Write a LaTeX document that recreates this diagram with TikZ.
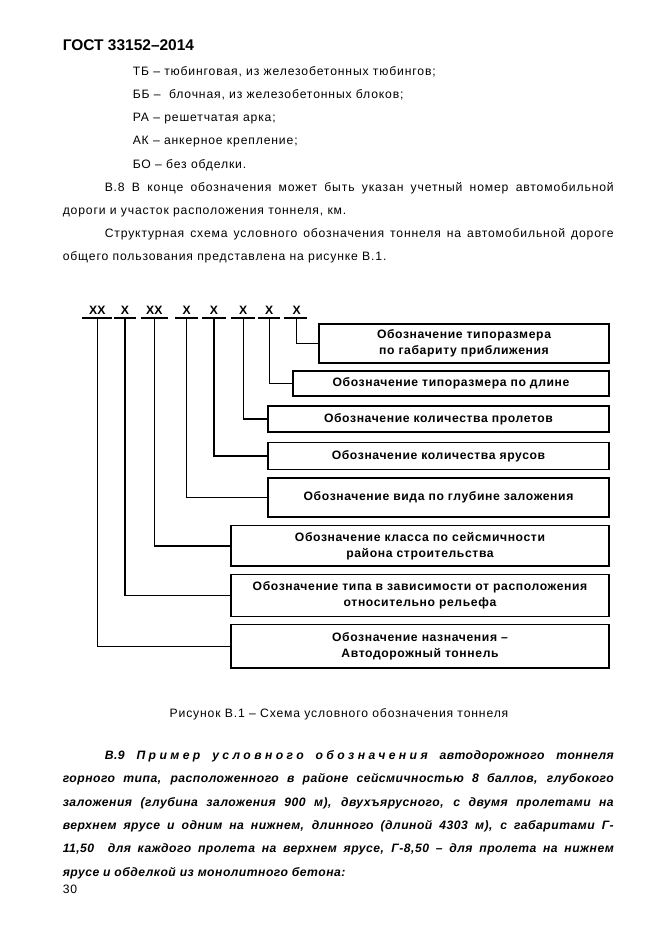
\documentclass[tikz,border=0pt]{standalone}
\usepackage{fontspec}
\setmainfont{Liberation Sans}
\newlength{\unitpx}
\setlength{\unitpx}{0.3177mm}
\begin{document}
\begin{tikzpicture}[x=\unitpx,y=-\unitpx,line width=1.4pt,
	txt/.style={anchor=base west,inner sep=0pt,font=\fontsize{11}{13}\selectfont\addfontfeature{LetterSpace=7}},
	ex/.style={anchor=base west,inner sep=0pt,font=\fontsize{11}{13}\selectfont\bfseries\itshape\addfontfeature{LetterSpace=4}},
	box/.style={draw,line width=1.4pt,inner sep=0pt,align=center,font=\fontsize{11}{14.4}\selectfont\bfseries\addfontfeature{LetterSpace=5}},
	lbl/.style={anchor=base,inner sep=0pt,font=\fontsize{11}{13}\selectfont\bfseries}]

	% page
	\useasboundingbox (0,0) rectangle (661,935);
	\fill[white] (0,0) rectangle (661,935);

	% header
	\node[anchor=base west,inner sep=0pt,font=\fontsize{14}{16}\selectfont\bfseries] (head) at (62,50.5) {ГОСТ 33152–2014};

	% list
	\node[txt] (tb) at (132,76) {ТБ – тюбинговая, из железобетонных тюбингов;};
	\node[txt] (bb) at (132,99) {ББ –\ \ блочная, из железобетонных блоков;};
	\node[txt] (ra) at (132,122) {РА – решетчатая арка;};
	\node[txt] (ak) at (132,145) {АК – анкерное крепление;};
	\node[txt] (bo) at (132,168) {БО – без обделки.};

	% text
	\node[txt] (v8a) at (104,191) {\makebox[509\unitpx][s]{В.8 В конце обозначения может быть указан учетный номер автомобильной}};
	\node[txt] (v8b) at (62,214) {дороги и участок расположения тоннеля, км.};
	\node[txt] (sta) at (104,237) {\makebox[509\unitpx][s]{Структурная схема условного обозначения тоннеля на автомобильной дороге}};
	\node[txt] (stb) at (62,260) {общего пользования представлена на рисунке В.1.};

	% X
	\node[lbl] (l1) at (97.3,314.5) {ХХ};
	\node[lbl] (l2) at (125,314.5) {Х};
	\node[lbl] (l3) at (154.3,314.5) {ХХ};
	\node[lbl] (l4) at (186.7,314.5) {Х};
	\node[lbl] (l5) at (214,314.5) {Х};
	\node[lbl] (l6) at (243.3,314.5) {Х};
	\node[lbl] (l7) at (269.3,314.5) {Х};
	\node[lbl] (l8) at (296.7,314.5) {Х};

	% underlines
	\draw (82.3,318)--(111.7,318);
	\draw (113.7,318)--(136,318);
	\draw (141,318)--(168.3,318);
	\draw (175,318)--(198.3,318);
	\draw (202.3,318)--(225.7,318);
	\draw (231,318)--(255,318);
	\draw (257.7,318)--(280.3,318);
	\draw (284.3,318)--(306.7,318);
	\coordinate (u1) at (97.3,318);
	\coordinate (u2) at (125,318);
	\coordinate (u3) at (154.3,318);
	\coordinate (u4) at (186.7,318);
	\coordinate (u5) at (214,318);
	\coordinate (u6) at (243.3,318);
	\coordinate (u7) at (269.3,318);
	\coordinate (u8) at (296.7,318);

	% boxes
	\node[box,minimum width=290\unitpx,minimum height=39\unitpx] (b1) at (464,343.5) {Обозначение типоразмера\\по габариту приближения};
	\node[box,minimum width=316\unitpx,minimum height=25\unitpx] (b2) at (451,383.5) {Обозначение типоразмера по длине};
	\node[box,minimum width=341\unitpx,minimum height=26.5\unitpx] (b3) at (438.5,419) {Обозначение количества пролетов};
	\node[box,minimum width=341\unitpx,minimum height=27\unitpx] (b4) at (438.5,456) {Обозначение количества ярусов};
	\node[box,minimum width=341\unitpx,minimum height=39\unitpx] (b5) at (438.5,497.5) {Обозначение вида по глубине заложения};
	\node[box,minimum width=378\unitpx,minimum height=40.5\unitpx] (b6) at (420,545.8) {Обозначение класса по сейсмичности\\района строительства};
	\node[box,minimum width=378\unitpx,minimum height=42.4\unitpx] (b7) at (420,595.5) {Обозначение типа в зависимости от расположения\\относительно рельефа};
	\node[box,minimum width=378\unitpx,minimum height=43.3\unitpx] (b8) at (420,646.3) {Обозначение назначения –\\Автодорожный тоннель};

	% connectors
	\draw (u8) |- (b1.west);
	\draw (u7) |- (b2.west);
	\draw (u6) |- (b3.west);
	\draw (u5) |- (b4.west);
	\draw (u4) |- (b5.west);
	\draw (u3) |- (b6.west);
	\draw (u2) |- (b7.west);
	\draw (u1) |- (b8.west);

	% caption
	\node[anchor=base,inner sep=0pt,font=\fontsize{11}{13}\selectfont\addfontfeature{LetterSpace=7}] (cap) at (339,717) {Рисунок В.1 – Схема условного обозначения тоннеля};

	% example
	\node[ex] (e1) at (104,759) {\makebox[509\unitpx][s]{В.9 {\addfontfeature{LetterSpace=28}Пример} {\addfontfeature{LetterSpace=28}условного} {\addfontfeature{LetterSpace=28}обозначения} автодорожного тоннеля}};
	\node[ex] (e2) at (62,782) {\makebox[551\unitpx][s]{горного типа, расположенного в районе сейсмичностью 8 баллов, глубокого}};
	\node[ex] (e3) at (62,806) {\makebox[551\unitpx][s]{заложения (глубина заложения 900 м), двухъярусного, с двумя пролетами на}};
	\node[ex] (e4) at (62,829) {\makebox[551\unitpx][s]{верхнем ярусе и одним на нижнем, длинного (длиной 4303 м), с габаритами Г-}};
	\node[ex] (e5) at (62,852) {\makebox[551\unitpx][s]{11,50\ \ для каждого пролета на верхнем ярусе, Г-8,50 – для пролета на нижнем}};
	\node[ex] (e6) at (62,876) {ярусе и обделкой из монолитного бетона:};

	% page number
	\node[txt] (pg) at (62,893) {30};

\end{tikzpicture}
\end{document}
